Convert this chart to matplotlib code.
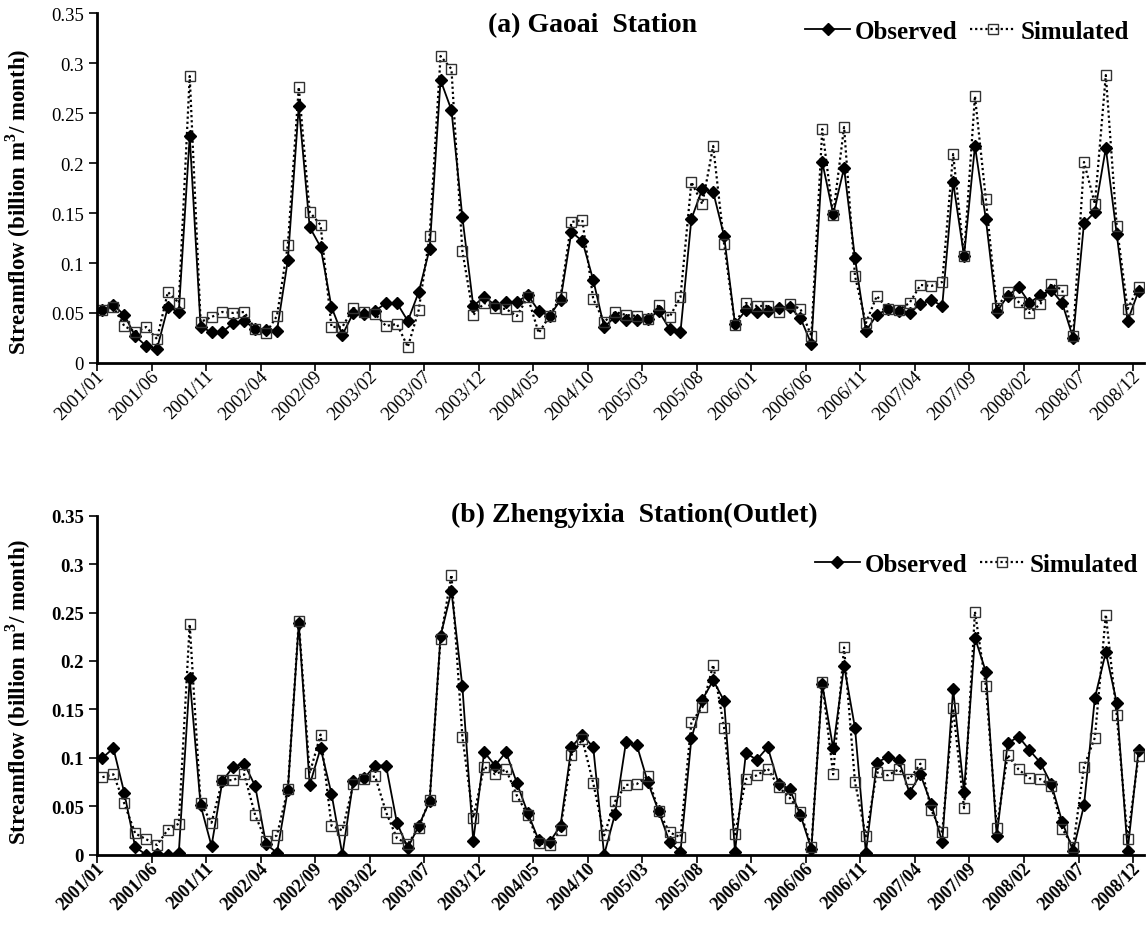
import matplotlib
matplotlib.use("Agg")
from matplotlib import pyplot as plt
from matplotlib import transforms
import numpy as np

plt.rcParams['font.family'] = ['Liberation Serif', 'DejaVu Serif']
plt.rcParams['mathtext.fontset'] = 'custom'
plt.rcParams['mathtext.rm'] = 'Liberation Serif'
plt.rcParams['mathtext.bf'] = 'Liberation Serif:bold'

# monthly labels 2001/01 .. 2008/12
months = ["%d/%02d" % (y, m) for y in range(2001, 2009) for m in range(1, 13)]

# (a) Gaoai station
obs_a = [0.053, 0.058, 0.048, 0.027, 0.017, 0.014, 0.056, 0.051, 0.227, 0.036,
         0.031, 0.031, 0.040, 0.042, 0.034, 0.033, 0.032, 0.103, 0.257, 0.136,
         0.116, 0.056, 0.028, 0.050, 0.049, 0.052, 0.060, 0.060, 0.042, 0.071,
         0.114, 0.283, 0.253, 0.146, 0.057, 0.066, 0.058, 0.061, 0.061, 0.068,
         0.052, 0.047, 0.063, 0.131, 0.122, 0.083, 0.036, 0.046, 0.043, 0.043,
         0.044, 0.052, 0.034, 0.031, 0.144, 0.174, 0.171, 0.127, 0.039, 0.053,
         0.051, 0.052, 0.055, 0.056, 0.045, 0.019, 0.201, 0.149, 0.195, 0.105,
         0.032, 0.048, 0.054, 0.052, 0.050, 0.059, 0.063, 0.057, 0.181, 0.107,
         0.217, 0.144, 0.051, 0.067, 0.076, 0.060, 0.068, 0.073, 0.060, 0.025,
         0.140, 0.151, 0.215, 0.129, 0.042, 0.072]
sim_a = [0.053, 0.056, 0.037, 0.031, 0.036, 0.024, 0.071, 0.060, 0.287, 0.041,
         0.046, 0.051, 0.050, 0.051, 0.034, 0.030, 0.047, 0.118, 0.276, 0.151,
         0.138, 0.036, 0.036, 0.055, 0.051, 0.049, 0.037, 0.039, 0.016, 0.053,
         0.127, 0.307, 0.294, 0.112, 0.048, 0.060, 0.055, 0.054, 0.047, 0.066,
         0.030, 0.047, 0.066, 0.141, 0.143, 0.064, 0.041, 0.051, 0.048, 0.047,
         0.044, 0.058, 0.046, 0.066, 0.181, 0.159, 0.217, 0.119, 0.038, 0.060,
         0.057, 0.057, 0.051, 0.059, 0.054, 0.027, 0.234, 0.148, 0.236, 0.087,
         0.040, 0.067, 0.054, 0.053, 0.060, 0.078, 0.077, 0.081, 0.209, 0.107,
         0.267, 0.164, 0.055, 0.071, 0.061, 0.050, 0.059, 0.079, 0.073, 0.027,
         0.201, 0.159, 0.288, 0.137, 0.054, 0.076]

# (b) Zhengyixia station (outlet)
obs_b = [0.100, 0.110, 0.064, 0.008, 0.000, 0.001, 0.000, 0.002, 0.182, 0.051,
         0.009, 0.076, 0.091, 0.094, 0.071, 0.011, 0.002, 0.067, 0.239, 0.072,
         0.110, 0.063, 0.000, 0.076, 0.079, 0.092, 0.092, 0.033, 0.007, 0.030,
         0.055, 0.226, 0.272, 0.174, 0.014, 0.106, 0.092, 0.106, 0.074, 0.043,
         0.015, 0.013, 0.030, 0.111, 0.124, 0.111, 0.000, 0.042, 0.116, 0.113,
         0.075, 0.045, 0.013, 0.003, 0.120, 0.160, 0.180, 0.159, 0.003, 0.105,
         0.098, 0.111, 0.073, 0.068, 0.041, 0.006, 0.176, 0.110, 0.195, 0.131,
         0.002, 0.095, 0.101, 0.098, 0.064, 0.083, 0.052, 0.013, 0.171, 0.065,
         0.224, 0.189, 0.019, 0.115, 0.122, 0.108, 0.095, 0.073, 0.034, 0.004,
         0.051, 0.162, 0.209, 0.157, 0.004, 0.108]
sim_b = [0.080, 0.083, 0.053, 0.022, 0.016, 0.010, 0.026, 0.032, 0.238, 0.053,
         0.033, 0.077, 0.077, 0.083, 0.041, 0.014, 0.020, 0.068, 0.241, 0.084,
         0.124, 0.030, 0.025, 0.073, 0.078, 0.081, 0.044, 0.017, 0.011, 0.028,
         0.057, 0.223, 0.289, 0.122, 0.038, 0.091, 0.083, 0.088, 0.061, 0.041,
         0.012, 0.010, 0.026, 0.103, 0.119, 0.074, 0.020, 0.055, 0.072, 0.073,
         0.081, 0.045, 0.023, 0.018, 0.137, 0.152, 0.196, 0.131, 0.021, 0.078,
         0.082, 0.089, 0.070, 0.059, 0.044, 0.008, 0.178, 0.083, 0.214, 0.075,
         0.019, 0.085, 0.082, 0.088, 0.078, 0.094, 0.046, 0.023, 0.151, 0.048,
         0.251, 0.174, 0.028, 0.103, 0.088, 0.079, 0.078, 0.071, 0.027, 0.008,
         0.091, 0.121, 0.248, 0.144, 0.016, 0.102]

yticks = [0, 0.05, 0.1, 0.15, 0.2, 0.25, 0.3, 0.35]
ytick_labels = ["0", "0.05", "0.1", "0.15", "0.2", "0.25", "0.3", "0.35"]

fig = plt.figure(figsize=(11.48, 9.28), dpi=100)
ax_a = fig.add_axes([0.0845, 0.6078, 0.912, 0.377])
ax_b = fig.add_axes([0.0845, 0.0779, 0.912, 0.3653])


def draw(ax, obs, sim, title, bold_ticks, title_xy, leg_anchor, xfs, ylab_y):
    x = np.arange(len(obs))
    ax.plot(x, obs, color='black', lw=1.3, marker='D', markersize=6,
            markerfacecolor='black', markeredgecolor='black', label='Observed')
    ax.plot(x, sim, color='black', lw=1.6, ls=(0, (1, 1.3)), marker='s',
            markersize=6.5, markerfacecolor='none', markeredgecolor='#333333',
            markeredgewidth=1.0, label='Simulated')
    ax.set_xlim(-0.5, len(obs) - 0.5)
    ax.set_ylim(0, 0.35)
    for s in ['top', 'right']:
        ax.spines[s].set_visible(False)
    for s in ['left', 'bottom']:
        ax.spines[s].set_linewidth(2)
    w = 'bold' if bold_ticks else 'normal'
    ax.set_yticks(yticks)
    ax.set_yticklabels(ytick_labels, fontsize=13.5, fontweight=w)
    ax.tick_params(axis='y', direction='out', length=6, width=1.2)
    pos = np.arange(0, len(obs), 5)
    ax.set_xticks(pos)
    ax.set_xticklabels([months[i] for i in pos], rotation=45, ha='right',
                       rotation_mode='anchor', fontsize=xfs, fontweight=w)
    ax.tick_params(axis='x', which='major', length=0, pad=3)
    shift = transforms.ScaledTranslation(-7 / 100, 0, fig.dpi_scale_trans)
    for lab in ax.get_xticklabels():
        lab.set_transform(lab.get_transform() + shift)
    ax.set_xticks(pos - 0.5, minor=True)
    ax.tick_params(axis='x', which='minor', direction='out', length=6, width=1.2)
    ax.set_ylabel("Streamflow (billion m$^\\mathbf{3}$/ month)", fontsize=16.5,
                  fontweight='bold')
    ax.yaxis.set_label_coords(-0.061, ylab_y)
    ax.text(title_xy[0], title_xy[1], title, transform=ax.transAxes,
            ha='center', va='center', fontsize=20, fontweight='bold')
    ax.legend(loc='upper right', bbox_to_anchor=leg_anchor, ncol=2,
              frameon=False, prop={'size': 18, 'weight': 'bold'},
              handlelength=1.8, handletextpad=0.2, columnspacing=0.5,
              borderaxespad=0)


draw(ax_a, obs_a, sim_a, "(a) Gaoai  Station", False, (0.473, 0.966),
     (0.995, 1.01), 13.5, 0.463)
draw(ax_b, obs_b, sim_b, "(b) Zhengyixia  Station(Outlet)", True, (0.513, 1.005),
     (1.004, 0.92), 13, 0.483)

fig.savefig("out.png", dpi=100)
